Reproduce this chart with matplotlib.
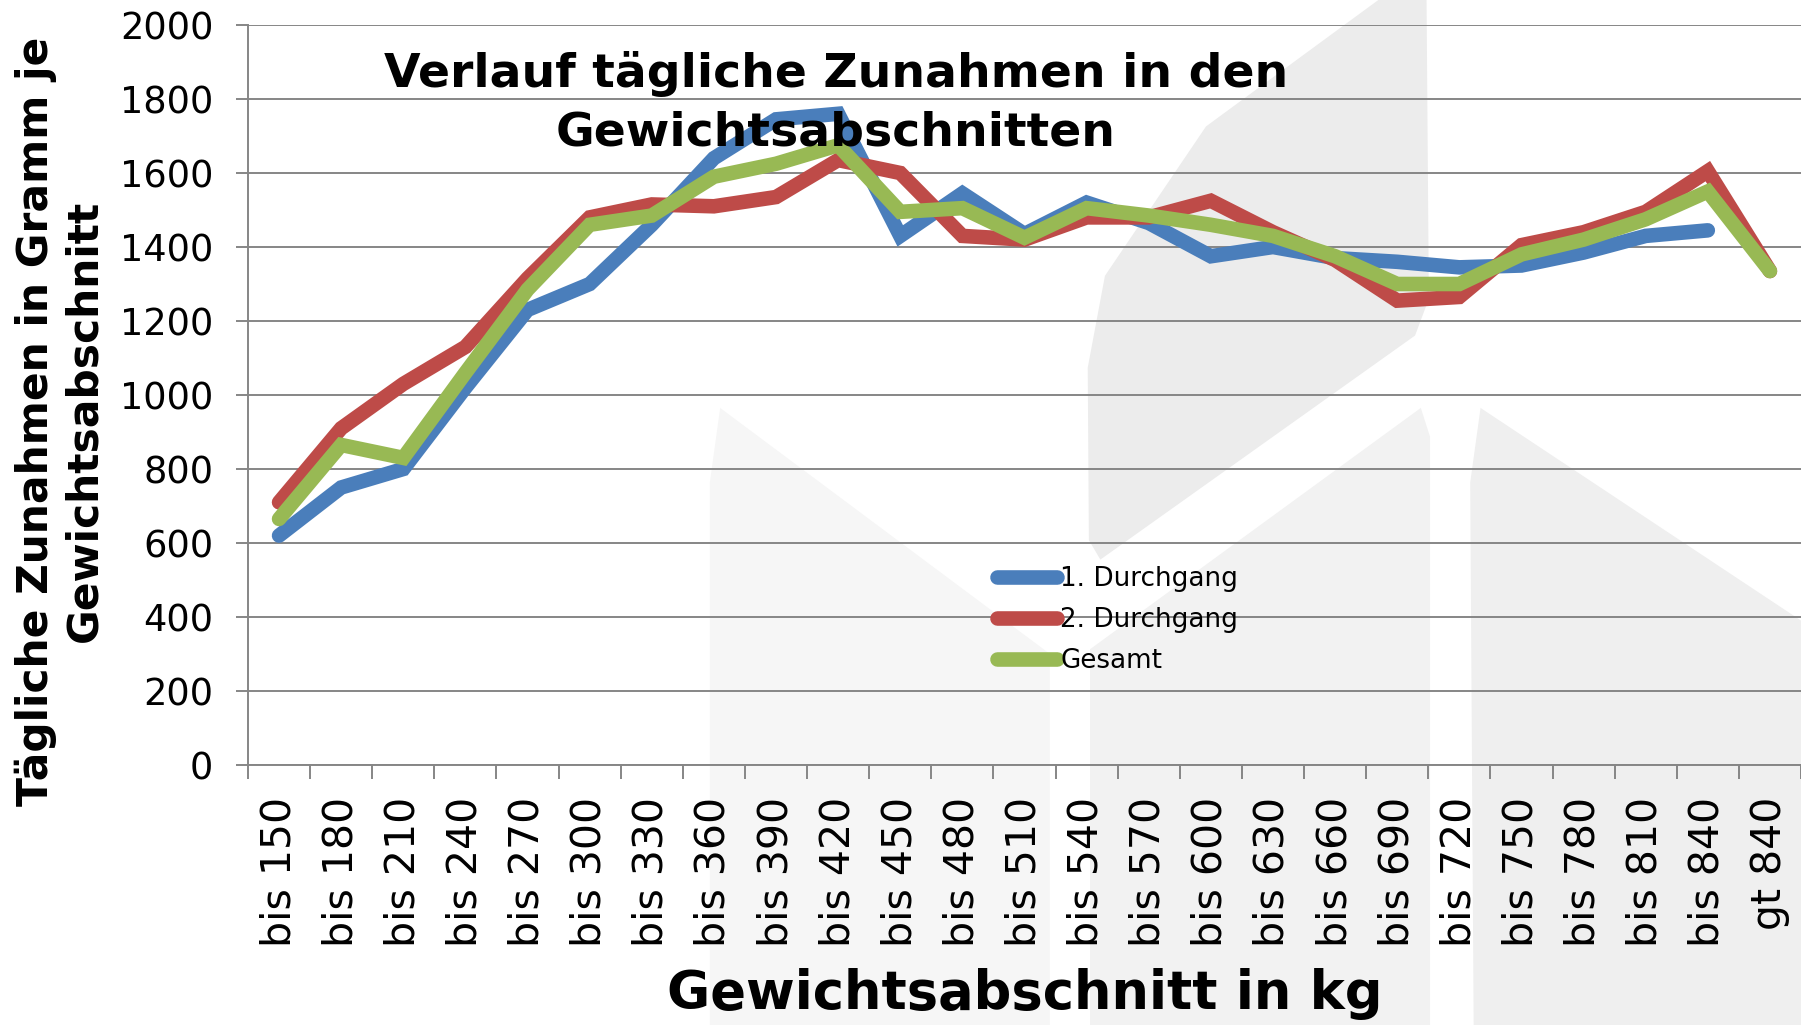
import numpy as np
import matplotlib
matplotlib.use("Agg")
import matplotlib.pyplot as plt
from matplotlib.patches import Polygon

# ---------------- data ----------------
categories = ["bis 150", "bis 180", "bis 210", "bis 240", "bis 270", "bis 300",
              "bis 330", "bis 360", "bis 390", "bis 420", "bis 450", "bis 480",
              "bis 510", "bis 540", "bis 570", "bis 600", "bis 630", "bis 660",
              "bis 690", "bis 720", "bis 750", "bis 780", "bis 810", "bis 840",
              "gt 840"]
durchgang_1 = [620, 750, 800, 1020, 1230, 1300, 1460, 1640, 1745, 1760, 1430,
               1545, 1435, 1520, 1465, 1375, 1400, 1370, 1360, 1345, 1350, 1385,
               1430, 1445, np.nan]
durchgang_2 = [710, 910, 1030, 1130, 1315, 1480, 1515, 1510, 1535, 1635, 1600,
               1430, 1420, 1480, 1480, 1525, 1440, 1365, 1255, 1265, 1405, 1440,
               1495, 1605, 1335]
gesamt = [665, 865, 830, 1060, 1285, 1460, 1485, 1590, 1625, 1675, 1495, 1505,
          1425, 1505, 1485, 1460, 1430, 1375, 1300, 1300, 1380, 1420, 1475, 1550,
          1335]
series_labels = ["1. Durchgang", "2. Durchgang", "Gesamt"]
yticks = [0, 200, 400, 600, 800, 1000, 1200, 1400, 1600, 1800, 2000]

colors = ["#4A7EBB", "#BE4B48", "#98B954"]

# faint background watermark shapes (figure fractions, decorative only)
W, H = 1568.0, 892.0
WATERMARK = [
    ([(1200, 0), (1242, 0), (1244, 260), (1232, 292), (958, 487), (948, 470),
      (947, 320), (962, 240), (1050, 110)], "#ECECEC"),
    ([(627, 355), (914, 569), (914, 892), (618, 892), (618, 420)], "#F6F6F6"),
    ([(1237, 355), (1245, 380), (1245, 892), (949, 892), (949, 565)], "#F2F2F2"),
    ([(1289, 355), (1568, 540), (1568, 892), (1283, 892), (1280, 420)], "#EFEFEF"),
]

fig = plt.figure(figsize=(18.01, 10.25), dpi=100)
fig.patch.set_facecolor("white")

for pts, col in WATERMARK:
    poly = Polygon([(x / W, 1 - y / H) for x, y in pts], closed=True,
                   transform=fig.transFigure, facecolor=col, edgecolor="none",
                   zorder=-10)
    fig.patches.append(poly)

ax = fig.add_axes([248 / 1801, 1 - 765 / 1025, 1 - 248 / 1801, (765 - 25) / 1025])
ax.set_facecolor("none")
ax.set_zorder(1)

x = np.arange(len(categories))
lines = []
for vals, col, lab in zip([durchgang_1, durchgang_2, gesamt], colors, series_labels):
    ln, = ax.plot(x, vals, color=col, lw=10.5, label=lab,
                  solid_capstyle="round", solid_joinstyle="miter", zorder=3)
    lines.append(ln)

ax.set_xlim(-0.5, len(categories) - 0.5)
ax.set_ylim(0, 2000)
ax.set_yticks(yticks)
ax.set_yticklabels([str(v) for v in yticks], fontsize=26.5)
ax.yaxis.grid(True, color="#868686", lw=1.4, zorder=1)
ax.set_axisbelow(True)

ax.set_xticks(x)
ax.set_xticklabels(categories, rotation=90, fontsize=29.5)
ax.set_xticks(np.arange(-0.5, len(categories), 1), minor=True)
ax.tick_params(axis="x", which="major", length=0, pad=23)
ax.tick_params(axis="x", which="minor", length=10, width=1.4, color="#868686",
               direction="out")
ax.tick_params(axis="y", length=9, width=1.4, color="#868686", pad=16,
               direction="out")

for s in ["top", "right"]:
    ax.spines[s].set_visible(False)
for s in ["left", "bottom"]:
    ax.spines[s].set_color("#868686")
    ax.spines[s].set_linewidth(1.4)

fig.text(836 / 1801, 1 - 103 / 1025,
         "Verlauf tägliche Zunahmen in den\nGewichtsabschnitten",
         ha="center", va="center", fontsize=34, fontweight="bold",
         linespacing=1.38)
fig.text(60 / 1801, 1 - 421 / 1025,
         "Tägliche Zunahmen in Gramm je\nGewichtsabschnitt",
         ha="center", va="center", rotation=90, fontsize=30.5,
         fontweight="bold", linespacing=1.2)
fig.text(1025 / 1801, 1 - 994 / 1025, "Gewichtsabschnitt in kg",
         ha="center", va="center", fontsize=38, fontweight="bold")

leg = fig.legend(handles=lines, labels=series_labels, loc="center left",
                 bbox_to_anchor=(997 / 1801, 1 - 620 / 1025), frameon=False,
                 fontsize=18.9, handlelength=2.3, handletextpad=0.1,
                 labelspacing=0.58, borderpad=0, borderaxespad=0)
for lh in leg.get_lines():
    lh.set_linewidth(10.5)

fig.savefig("out.png", dpi=100)
